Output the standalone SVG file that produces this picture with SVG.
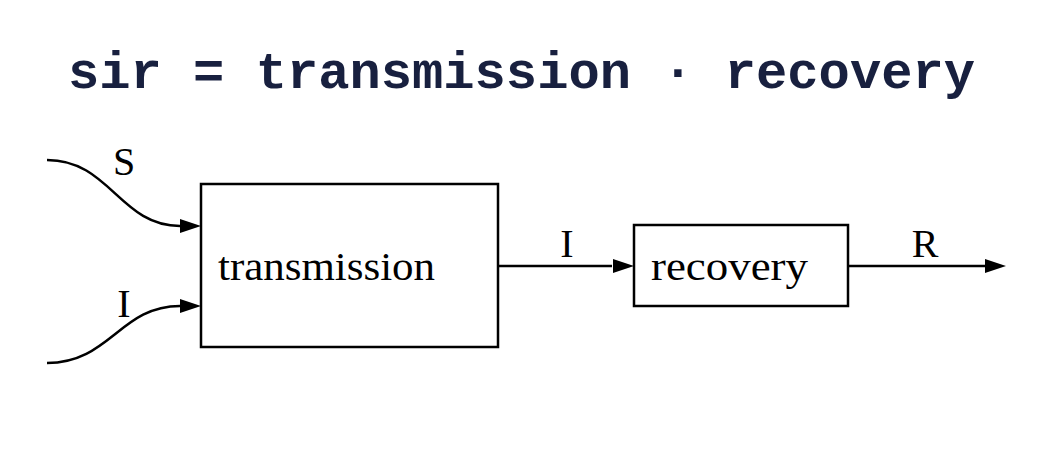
<svg xmlns="http://www.w3.org/2000/svg" width="1050" height="460" viewBox="0 0 1050 460">
<style>
.box{fill:none;stroke:#000;stroke-width:2.5}
.edge{fill:none;stroke:#000;stroke-width:2.5}
.head{fill:#000}
.lbl{font-family:"Liberation Serif",serif;font-size:40px;fill:#000}
.title{font-family:"Liberation Mono",monospace;font-weight:bold;font-size:52px;fill:#18203f}
</style>
<rect width="1050" height="460" fill="#fff"/>
<text class="title" x="68" y="88" textLength="907" lengthAdjust="spacingAndGlyphs">sir = transmission · recovery</text>
<g id="connectors">
<path class="edge" d="M47,160 C110,160 120,226 180,226"/>
<path class="edge" d="M47,363 C110,363 120,306 180,306"/>
<path class="edge" d="M497,266 L612,266"/>
<path class="edge" d="M849,266 L985,266"/>
<path class="head" d="M180,219 L201,226 L180,233 z"/>
<path class="head" d="M180,299 L201,306 L180,313 z"/>
<path class="head" d="M613,259 L634,266 L613,273 z"/>
<path class="head" d="M985,259 L1006,266 L985,273 z"/>
<text class="lbl" x="124" y="175" text-anchor="middle">S</text>
<text class="lbl" x="124" y="317" text-anchor="middle">I</text>
<text class="lbl" x="567" y="257" text-anchor="middle">I</text>
<text class="lbl" x="925" y="257" text-anchor="middle">R</text>
</g>
<g id="transmission">
<rect class="box" x="201" y="184" width="297" height="163"/>
<text class="lbl" x="218" y="280" textLength="217" lengthAdjust="spacingAndGlyphs">transmission</text>
</g>
<g id="recovery">
<rect class="box" x="634" y="225" width="214" height="81"/>
<text class="lbl" x="651" y="280" textLength="157" lengthAdjust="spacingAndGlyphs">recovery</text>
</g>
</svg>
